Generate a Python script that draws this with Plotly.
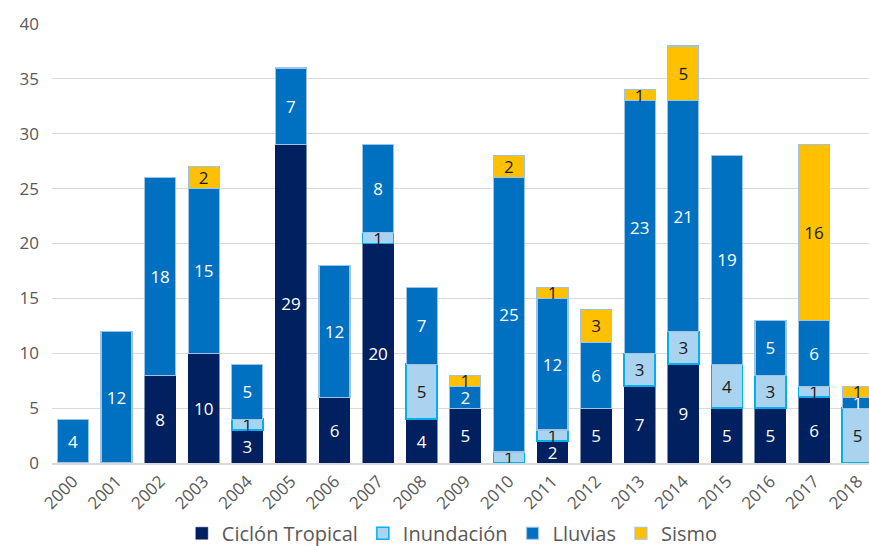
import plotly.graph_objects as go

years = [str(y) for y in range(2000, 2019)]
ciclon = [0, 0, 8, 10, 3, 29, 6, 20, 4, 5, 0, 2, 5, 7, 9, 5, 5, 6, 0]
inundacion = [0, 0, 0, 0, 1, 0, 0, 1, 5, 0, 1, 1, 0, 3, 3, 4, 3, 1, 5]
lluvias = [4, 12, 18, 15, 5, 7, 12, 8, 7, 2, 25, 12, 6, 23, 21, 19, 5, 6, 1]
sismo = [0, 0, 0, 2, 0, 0, 0, 0, 0, 1, 2, 1, 3, 1, 5, 0, 0, 16, 1]

def nz(vals):
    return [v if v else None for v in vals]

def lbl(vals):
    return [str(v) if v else "" for v in vals]

series = [
    ("Ciclón Tropical", ciclon, "#002060", "#002060", 0.5, "white"),
    ("Inundación", inundacion, "#a9d3ee", "#00b0f0", 1.5, "#1a1a1a"),
    ("Lluvias", lluvias, "#0070c0", "#9dc3e6", 1.2, "white"),
    ("Sismo", sismo, "#ffc000", "#9dc3e6", 1.2, "#1a1a1a"),
]

fig = go.Figure()
for name, vals, fill, line, lw, tc in series:
    fig.add_trace(go.Bar(
        x=years, y=nz(vals), name=name,
        marker=dict(color=fill, line=dict(color=line, width=lw)),
        text=lbl(vals), textposition="inside", insidetextanchor="middle",
        textfont=dict(color=tc, size=17, family="Open Sans"),
        textangle=0, cliponaxis=True,
    ))

fig.update_layout(
    barmode="stack",
    bargap=0.29,
    width=869, height=546,
    margin=dict(l=52, r=0, t=24, b=83, autoexpand=False),
    plot_bgcolor="white", paper_bgcolor="white",
    font=dict(family="Open Sans", color="#595959", size=16),
    uniformtext=dict(minsize=17, mode="show"),
    xaxis=dict(
        range=[-0.48, 18.26], tickangle=-45, showgrid=False,
        showline=True, linecolor="#d9d9d9", linewidth=1.5,
        tickfont=dict(size=17, color="#595959"), ticks="",
        automargin=False,
    ),
    yaxis=dict(
        range=[0, 40], dtick=5, showgrid=True, gridcolor="#d9d9d9",
        gridwidth=1, zeroline=False, showline=False,
        tickfont=dict(size=17, color="#595959"), ticks="", ticklabelstandoff=12,
        automargin=False,
    ),
    legend=dict(
        orientation="h", x=0.49, xanchor="center", y=-0.16, yanchor="middle",
        font=dict(size=20, color="#595959"), traceorder="normal",
        itemwidth=30, bgcolor="rgba(0,0,0,0)",
    ),
)

fig.write_html("out.html")
